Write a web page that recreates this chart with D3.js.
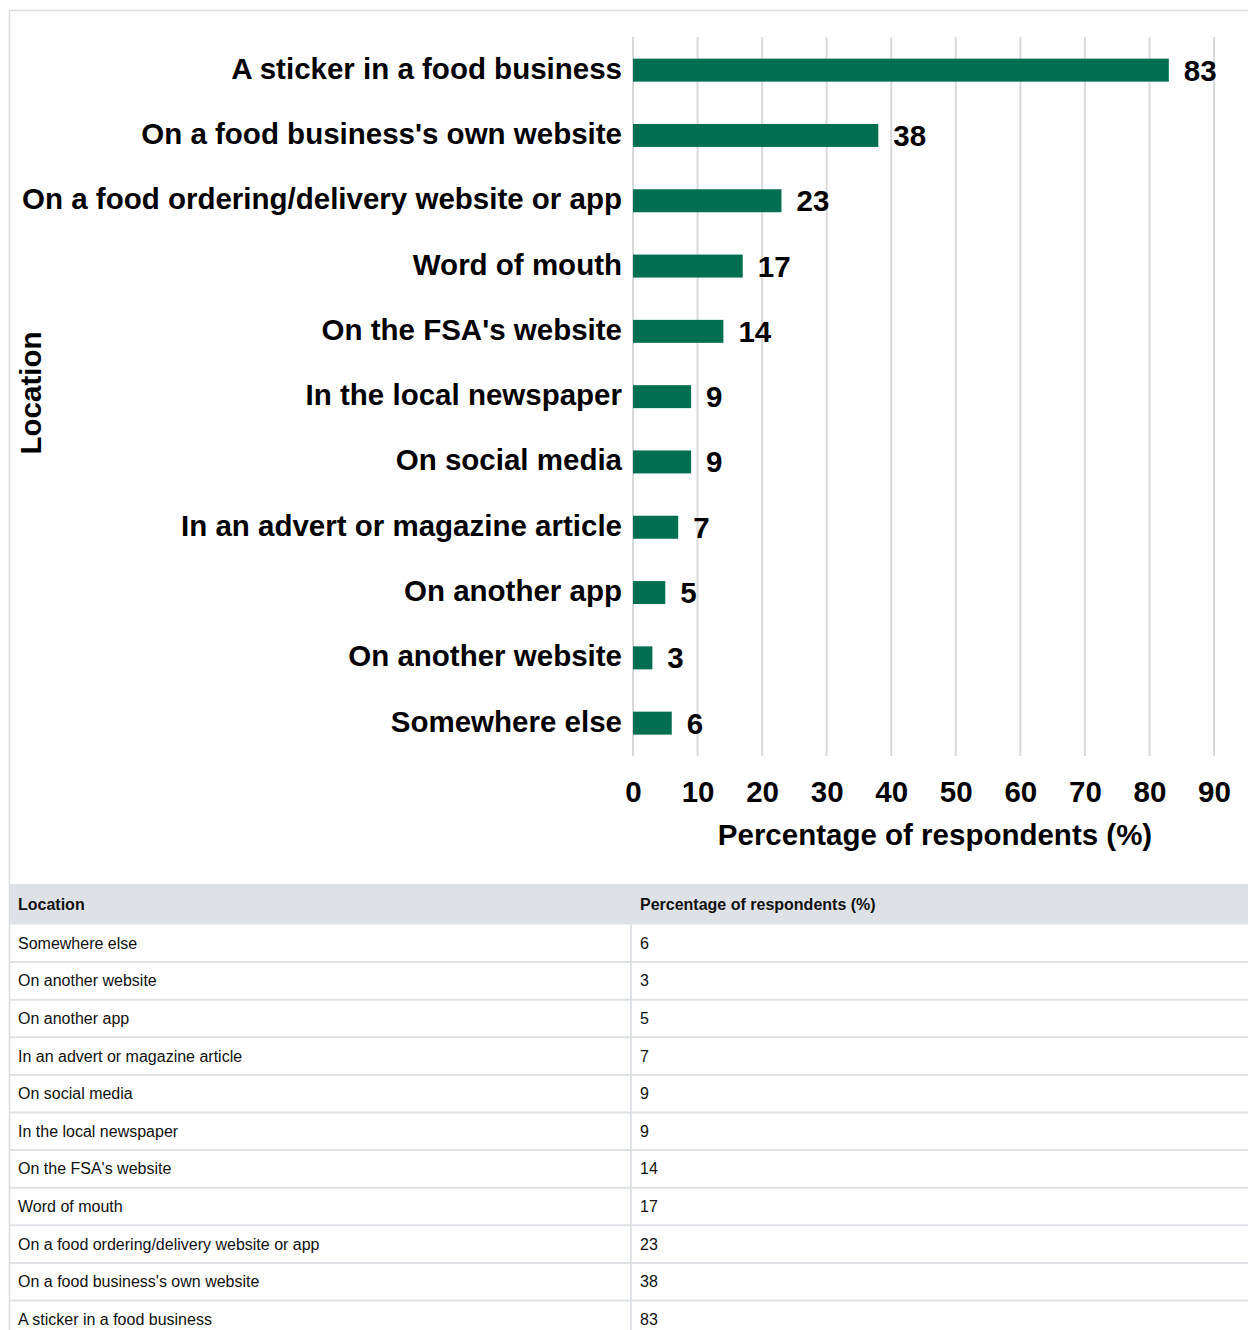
<!DOCTYPE html>
<html>
<head>
<meta charset="utf-8">
<script src="https://cdn.jsdelivr.net/npm/d3@7"></script>
<style>
  html, body { margin: 0; padding: 0; background: #fff; }
  svg { display: block; font-family: "Liberation Sans", Arial, sans-serif; }
</style>
</head>
<body>
<svg id="chart" width="1248" height="1330"></svg>
<script>
// Where respondents had seen hygiene ratings, % of respondents
const categories = [
  "A sticker in a food business",
  "On a food business's own website",
  "On a food ordering/delivery website or app",
  "Word of mouth",
  "On the FSA's website",
  "In the local newspaper",
  "On social media",
  "In an advert or magazine article",
  "On another app",
  "On another website",
  "Somewhere else"
];
const percentages = [83, 38, 23, 17, 14, 9, 9, 7, 5, 3, 6];
const xTicks = [0, 10, 20, 30, 40, 50, 60, 70, 80, 90];
const tableHeaders = ["Location", "Percentage of respondents (%)"];

const svg = d3.select("#chart");
const green = "#006f51";
const gridColor = "#d9d9d9";
const lineColor = "#dee2e6";

// outer frame
svg.append("rect")
  .attr("x", 9.5).attr("y", 10.5)
  .attr("width", 1260).attr("height", 1340)
  .attr("fill", "none").attr("stroke", "#dcdcdc").attr("stroke-width", 1.5);

// scales
const x = d3.scaleLinear().domain([0, 90]).range([633, 1214]);
const y = d3.scaleBand().domain(categories).range([37.5, 755.8])
  .paddingInner(0.648).paddingOuter(0.324);

// vertical gridlines
svg.append("g").selectAll("line").data(xTicks).join("line")
  .attr("x1", d => x(d)).attr("x2", d => x(d))
  .attr("y1", 37).attr("y2", 756)
  .attr("stroke", gridColor).attr("stroke-width", 2);

// bars
svg.append("g").selectAll("rect").data(categories).join("rect")
  .attr("x", x(0))
  .attr("y", d => y(d))
  .attr("width", (d, i) => x(percentages[i]) - x(0))
  .attr("height", y.bandwidth())
  .attr("fill", green);

// category labels
svg.append("g").selectAll("text").data(categories).join("text")
  .attr("x", 622)
  .attr("y", d => y(d) + y.bandwidth() / 2 + 8.5)
  .attr("text-anchor", "end")
  .attr("font-size", 29.5).attr("font-weight", "bold").attr("fill", "#000")
  .text(d => d);

// value labels
svg.append("g").selectAll("text").data(categories).join("text")
  .attr("x", (d, i) => x(percentages[i]) + 15)
  .attr("y", d => y(d) + y.bandwidth() / 2 + 10.5)
  .attr("font-size", 29.5).attr("font-weight", "bold").attr("fill", "#000")
  .text((d, i) => percentages[i]);

// x axis tick labels
const xAxis = d3.axisBottom(x).tickValues(xTicks).tickSize(0).tickPadding(0);
const gx = svg.append("g").attr("transform", "translate(0,781)").call(xAxis);
gx.select(".domain").remove();
gx.selectAll("text")
  .attr("dy", "0.71em").attr("y", 0)
  .attr("font-family", "Liberation Sans, Arial, sans-serif")
  .attr("font-size", 29.5).attr("font-weight", "bold").attr("fill", "#000");

// axis titles
svg.append("text")
  .attr("x", 935).attr("y", 845)
  .attr("text-anchor", "middle")
  .attr("font-size", 29.5).attr("font-weight", "bold")
  .text("Percentage of respondents (%)");

svg.append("text")
  .attr("transform", "translate(41,393) rotate(-90)")
  .attr("text-anchor", "middle")
  .attr("font-size", 29.5).attr("font-weight", "bold")
  .text("Location");

// data table
const tableTop = 884, headerH = 40.5, rowH = 37.6, colX = [18, 640], divX = 631;
const rows = categories.map((c, i) => ({ c, v: percentages[i] })).reverse();

svg.append("rect")
  .attr("x", 10).attr("y", tableTop).attr("width", 1238).attr("height", headerH)
  .attr("fill", "#dee2e6");

svg.append("g").selectAll("text").data(tableHeaders).join("text")
  .attr("x", (d, i) => colX[i]).attr("y", tableTop + headerH / 2 + 6)
  .attr("font-size", 16).attr("font-weight", "bold").attr("fill", "#111")
  .text(d => d);

const rowG = svg.append("g").selectAll("g").data(rows).join("g")
  .attr("transform", (d, i) => `translate(0,${tableTop + headerH + i * rowH})`);

rowG.append("line")
  .attr("x1", 10).attr("x2", 1248).attr("y1", rowH).attr("y2", rowH)
  .attr("stroke", lineColor).attr("stroke-width", 2);

rowG.append("text")
  .attr("x", colX[0]).attr("y", rowH / 2 + 5.5)
  .attr("font-size", 16).attr("fill", "#111")
  .text(d => d.c);

rowG.append("text")
  .attr("x", colX[1]).attr("y", rowH / 2 + 5.5)
  .attr("font-size", 16).attr("fill", "#111")
  .text(d => d.v);

svg.append("line")
  .attr("x1", divX).attr("x2", divX)
  .attr("y1", tableTop + headerH).attr("y2", 1330)
  .attr("stroke", lineColor).attr("stroke-width", 2);
</script>
</body>
</html>
